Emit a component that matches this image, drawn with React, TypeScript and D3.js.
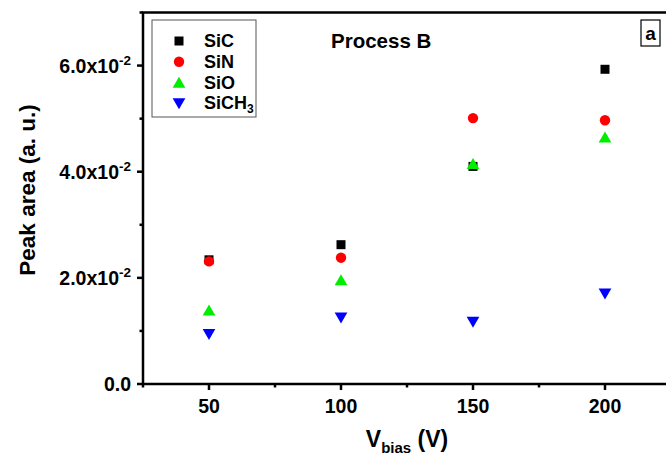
import React from "react";
import * as d3 from "d3";

const biasVoltages = [50, 100, 150, 200];
const sicValues = [0.0234, 0.02625, 0.041, 0.0593];
const sinValues = [0.0231, 0.0238, 0.0501, 0.0497];
const sioValues = [0.0139, 0.0196, 0.0415, 0.0465];
const sich3Values = [0.0094, 0.0125, 0.0117, 0.017];

const xTicks = [50, 100, 150, 200];
const xMinorTicks = [25, 75, 125, 175, 225];
const yTicks = [0, 0.02, 0.04, 0.06];
const yTickMantissa = ["0.0", "2.0", "4.0", "6.0"];
const yMinorTicks = [0.01, 0.03, 0.05, 0.07];

const W = 666;
const H = 462;
const FONT = "'Liberation Sans', Arial, sans-serif";

const x = d3.scaleLinear().domain([25, 225]).range([143, 671]);
const y = d3.scaleLinear().domain([0, 0.07]).range([384, 12.5]);

type Shape = "square" | "circle" | "up" | "down";

const series: { name: string; values: number[]; color: string; shape: Shape }[] = [
  { name: "SiC", values: sicValues, color: "#000000", shape: "square" },
  { name: "SiN", values: sinValues, color: "#ff0000", shape: "circle" },
  { name: "SiO", values: sioValues, color: "#00ee00", shape: "up" },
  { name: "SiCH3", values: sich3Values, color: "#0000ff", shape: "down" },
];

const symbolFor = (shape: Shape) => {
  if (shape === "square") return d3.symbol().type(d3.symbolSquare).size(81)();
  if (shape === "circle") return d3.symbol().type(d3.symbolCircle).size(85)();
  return d3.symbol().type(d3.symbolTriangle).size(70)();
};

function Marker({ shape, color, cx, cy }: { shape: Shape; color: string; cx: number; cy: number }) {
  const rot = shape === "down" ? 180 : 0;
  const dy = shape === "up" ? 1.5 : shape === "down" ? -1.5 : 0;
  return (
    <path
      d={symbolFor(shape) || ""}
      fill={color}
      transform={`translate(${cx},${cy + dy}) rotate(${rot})`}
    />
  );
}

export default function App() {
  const x0 = x(25);
  const x1 = x(225);
  const yb = y(0);
  const yt = y(0.07);
  return (
    <svg
      width={W}
      height={H}
      style={{ position: "absolute", left: 0, top: 0, background: "#fff" }}
      fontFamily={FONT}
      fontWeight="bold"
    >
      <rect x={0} y={0} width={W} height={H} fill="#fff" />

      {/* data markers */}
      {series.map((s) =>
        s.values.map((v, i) => (
          <Marker key={s.name + i} shape={s.shape} color={s.color} cx={x(biasVoltages[i])} cy={y(v)} />
        ))
      )}

      {/* frame */}
      <rect x={x0} y={yt} width={x1 - x0} height={yb - yt} fill="none" stroke="#000" strokeWidth={2.5} />

      {/* x ticks */}
      {xTicks.map((t) => (
        <g key={"xt" + t}>
          <line x1={x(t)} x2={x(t)} y1={yb} y2={yb + 6} stroke="#000" strokeWidth={2.5} />
          <text x={x(t)} y={413} textAnchor="middle" fontSize={19.5}>
            {t}
          </text>
        </g>
      ))}
      {xMinorTicks.map((t) => (
        <line key={"xm" + t} x1={x(t)} x2={x(t)} y1={yb} y2={yb + 3.5} stroke="#000" strokeWidth={2.5} />
      ))}

      {/* y ticks */}
      {yTicks.map((t, i) => (
        <g key={"yt" + t}>
          <line x1={x0 - 6} x2={x0} y1={y(t)} y2={y(t)} stroke="#000" strokeWidth={2.5} />
          {t === 0 ? (
            <text x={131} y={y(t) + 7} textAnchor="end" fontSize={19.5}>
              {yTickMantissa[i]}
            </text>
          ) : (
            <text x={131} y={y(t) + 7} textAnchor="end" fontSize={19.5}>
              {yTickMantissa[i]}x10
              <tspan fontSize={13.5} dy={-8}>
                -2
              </tspan>
            </text>
          )}
        </g>
      ))}
      {yMinorTicks.map((t) => (
        <line key={"ym" + t} x1={x0 - 3.5} x2={x0} y1={y(t)} y2={y(t)} stroke="#000" strokeWidth={2.5} />
      ))}

      {/* axis titles */}
      <text x={407} y={447} textAnchor="middle" fontSize={23}>
        V
        <tspan fontSize={15} dy={6}>
          bias
        </tspan>
        <tspan dy={-6}> (V)</tspan>
      </text>
      <text transform={`translate(35,190) rotate(-90)`} textAnchor="middle" fontSize={22.5}>
        Peak area (a. u.)
      </text>

      {/* legend */}
      <rect x={152} y={20} width={104} height={97} fill="#fff" stroke="#555" strokeWidth={1} />
      {series.map((s, i) => {
        const ly = 41 + i * 20.8;
        return (
          <g key={"lg" + s.name}>
            <Marker shape={s.shape} color={s.color} cx={179} cy={ly} />
            <text x={204} y={ly + 6} fontSize={18}>
              {s.name === "SiCH3" ? (
                <>
                  SiCH
                  <tspan fontSize={12} dy={4}>
                    3
                  </tspan>
                </>
              ) : (
                s.name
              )}
            </text>
          </g>
        );
      })}

      {/* panel title and label */}
      <text x={331} y={48} fontSize={20.5}>
        Process B
      </text>
      <rect x={641} y={20} width={19} height={26} fill="#fff" stroke="#000" strokeWidth={1.2} />
      <text x={650.5} y={40} textAnchor="middle" fontSize={19}>
        a
      </text>
    </svg>
  );
}
